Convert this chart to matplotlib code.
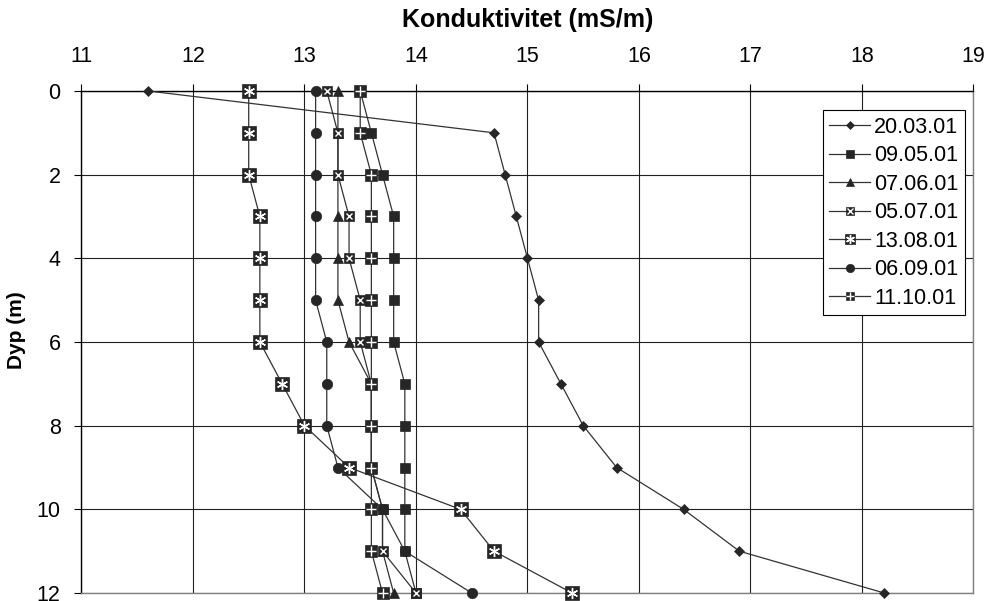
import matplotlib.pyplot as plt

plt.rcParams['font.family'] = ['Liberation Sans', 'DejaVu Sans']
plt.rcParams['font.size'] = 15.5

depth = list(range(13))

s_200301 = [11.6, 14.7, 14.8, 14.9, 15.0, 15.1, 15.1, 15.3, 15.5, 15.8, 16.4, 16.9, 18.2]
s_090501 = [13.5, 13.6, 13.7, 13.8, 13.8, 13.8, 13.8, 13.9, 13.9, 13.9, 13.9, 13.9, 14.0]
s_070601 = [13.3, 13.3, 13.3, 13.3, 13.3, 13.3, 13.4, 13.6, 13.6, 13.6, 13.7, 13.7, 13.8]
s_050701 = [13.2, 13.3, 13.3, 13.4, 13.4, 13.5, 13.5, 13.6, 13.6, 13.6, 13.7, 13.7, 14.0]
s_130801 = [12.5, 12.5, 12.5, 12.6, 12.6, 12.6, 12.6, 12.8, 13.0, 13.4, 14.4, 14.7, 15.4]
s_060901 = [13.1, 13.1, 13.1, 13.1, 13.1, 13.1, 13.2, 13.2, 13.2, 13.3, 13.7, 13.9, 14.5]
s_111001 = [13.5, 13.5, 13.6, 13.6, 13.6, 13.6, 13.6, 13.6, 13.6, 13.6, 13.6, 13.6, 13.7]

labels = ['20.03.01', '09.05.01', '07.06.01', '05.07.01', '13.08.01', '06.09.01', '11.10.01']
xticks = [11, 12, 13, 14, 15, 16, 17, 18, 19]
yticks = [0, 2, 4, 6, 8, 10, 12]

dark = '#262626'
line = '#333333'

fig = plt.figure(figsize=(9.85, 6.01), dpi=100)
ax = fig.add_axes([0.0827, 0.0133, 0.9056, 0.8353])

# (values, base marker, size, white overlay marker, overlay size)
series = [
    (s_200301, 'D', 5, None, 0),
    (s_090501, 's', 7, None, 0),
    (s_070601, '^', 7, None, 0),
    (s_050701, 's', 7.5, 'x', 5),
    (s_130801, 's', 9.5, (6, 2, 0), 8),
    (s_060901, 'o', 7.5, None, 0),
    (s_111001, 's', 8, '+', 6.5),
]

handles = []
for vals, mk, ms, over, oms in series:
    h, = ax.plot(vals, depth, color=line, lw=0.9, marker=mk, ms=ms,
                 mfc=dark, mec=dark, mew=0.5, clip_on=False, zorder=3)
    if over is not None:
        o, = ax.plot(vals, depth, ls='none', marker=over, ms=oms,
                     mec='white', mew=1.0, clip_on=False, zorder=3)
        handles.append((h, o))
    else:
        handles.append(h)

ax.set_xlim(11, 19)
ax.set_ylim(12, 0)
ax.set_xticks(xticks)
ax.set_yticks(yticks)
ax.xaxis.tick_top()
ax.tick_params(axis='x', direction='out', length=5, pad=12, color='black')
ax.tick_params(axis='y', direction='out', length=5, pad=10, color='black')

ax.grid(True, color='#202020', lw=0.8, zorder=0)
ax.set_axisbelow(True)
for side in ['left', 'top']:
    ax.spines[side].set_color('black')
for side in ['right', 'bottom']:
    ax.spines[side].set_color('#808080')
for s in ax.spines.values():
    s.set_linewidth(1.0)

fig.text(528 / 985, 1 - 20 / 601, 'Konduktivitet (mS/m)', fontweight='bold',
         fontsize=18, ha='center', va='center')
fig.text(17 / 985, 1 - 330 / 601, 'Dyp (m)', fontweight='bold', fontsize=15,
         rotation=90, ha='center', va='center')

leg = ax.legend(handles, labels, loc='upper right', bbox_to_anchor=(0.9905, 0.962),
                borderaxespad=0, handlelength=1.9, handletextpad=0.2,
                labelspacing=0.35, borderpad=0.3, fancybox=False,
                edgecolor='black', framealpha=1, markerscale=0.8)
leg.get_frame().set_linewidth(0.8)

plt.savefig('out.png', dpi=100)
plt.close('all')
